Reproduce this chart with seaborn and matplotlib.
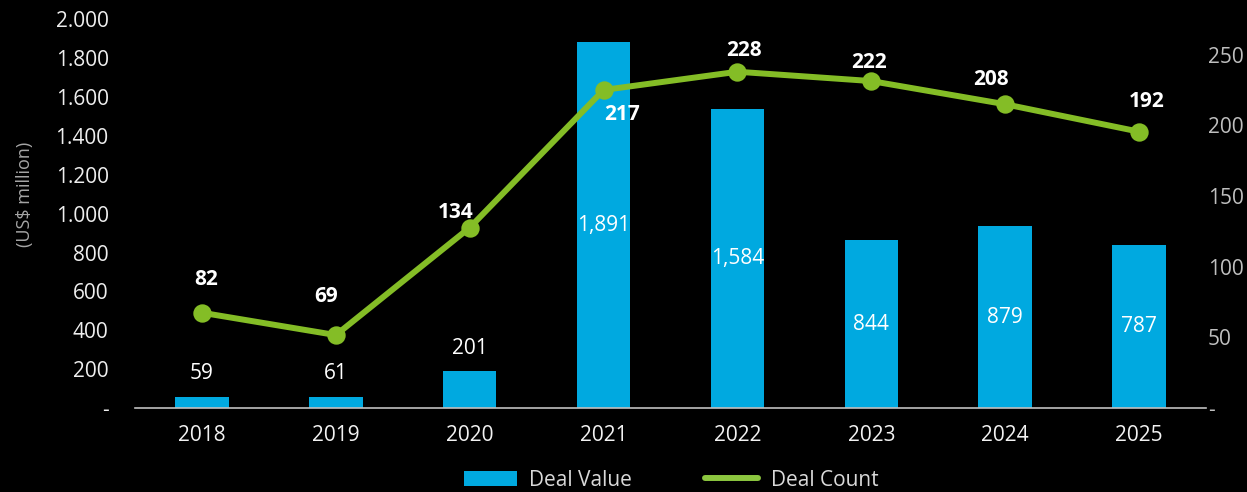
import numpy as np
import pandas as pd
import seaborn as sns
import matplotlib.pyplot as plt
from matplotlib.patches import Patch
from matplotlib.lines import Line2D
from matplotlib.ticker import FuncFormatter, FixedLocator

years = ['2018', '2019', '2020', '2021', '2022', '2023', '2024', '2025']
# bar heights / line points as drawn in the source, printed labels kept separately
deal_value = [57, 57, 190, 1882, 1537, 864, 936, 838]
deal_value_labels = ['59', '61', '201', '1,891', '1,584', '844', '879', '787']
deal_count = [67.4, 51.6, 127.6, 225, 237.9, 231.3, 214.9, 195.5]
deal_count_labels = ['82', '69', '134', '217', '228', '222', '208', '192']

# label offsets in pixels (dx, dy) from the point
count_offsets = [(4, 33), (-10, 39), (-14, 15), (18, -25), (7, 21), (-2, 19), (-14, 25), (8, 30)]

blue = '#00A9E0'
green = '#84BD26'

#%% style
sns.set_style('dark', {'axes.facecolor': 'black', 'figure.facecolor': 'black'})
plt.rcParams['font.family'] = ['Open Sans', 'DejaVu Sans']

df = pd.DataFrame({'year': years, 'value': deal_value, 'count': deal_count})

W, H = 1247, 492
fig = plt.figure(figsize=(W/100, H/100), dpi=100)
ax = fig.add_axes([135/W, 84/H, (1206-135)/W, (408-19.3)/H])

sns.barplot(data=df, x='year', y='value', color=blue, width=0.4, saturation=1,
            linewidth=0, ax=ax)
ax.set_ylim(0, 2000)

ax2 = ax.twinx()
sns.pointplot(data=df, x='year', y='count', color=green, markers='o', errorbar=None,
              markersize=10, linewidth=4.3, ax=ax2)
ax2.set_ylim(0, 275)
ax.set_xlim(-0.5, 7.5)

#%% axes
ax.set_yticks(range(0, 2001, 200))
ax.yaxis.set_major_formatter(FuncFormatter(lambda v, _: '-' if v == 0 else f'{int(v):,}'.replace(',', '.')))
ax2.set_yticks(range(0, 251, 50))
ax2.yaxis.set_major_formatter(FuncFormatter(lambda v, _: '-' if v == 0 else f'{int(v)}'))

ax.tick_params(axis='y', length=0, pad=19, labelsize=15, labelcolor='#EEEEEE')
ax2.tick_params(axis='y', length=0, pad=1.5, labelsize=15, labelcolor='#BFBFBF')
ax.tick_params(axis='x', which='major', length=0, pad=12, labelsize=15, labelcolor='#F2F2F2')
ax.xaxis.set_minor_locator(FixedLocator(np.arange(-0.5, 8, 1)))
ax.tick_params(axis='x', which='minor', direction='inout', length=11, width=1, color='#A6A6A6')

for a in (ax, ax2):
    for s in a.spines.values():
        s.set_visible(False)
    a.grid(False)
    a.set_xlabel('')
    a.set_ylabel('')
ax.spines['bottom'].set_visible(True)
ax.spines['bottom'].set_color('#BFBFBF')
ax.spines['bottom'].set_linewidth(1.2)

fig.text(25/W, 1-194/H, '(US$ million)', rotation=90, ha='center', va='center',
         color='#A6A6A6', fontsize=13)

#%% data labels
for i, (h, lab) in enumerate(zip(deal_value, deal_value_labels)):
    if h > 500:
        ax.text(i, h/2, lab, ha='center', va='center', color='white', fontsize=15)
    else:
        ax.annotate(lab, (i, h), xytext=(0, 23), textcoords='offset pixels',
                    ha='center', va='center', color='white', fontsize=15)

for i, (c, lab) in enumerate(zip(deal_count, deal_count_labels)):
    ax2.annotate(lab, (i, c), xytext=count_offsets[i], textcoords='offset pixels',
                 ha='center', va='center', color='white', fontsize=15, fontweight='bold')

#%% legend
handles = [Patch(facecolor=blue, edgecolor='none', label='Deal Value'),
           Line2D([0], [0], color='#8CC63F', lw=4.3, solid_capstyle='round', label='Deal Count')]
fig.legend(handles=handles, loc='center', bbox_to_anchor=(671/W, 1-480/H), ncol=2,
           frameon=False, fontsize=15, labelcolor='#D9D9D9', handlelength=2.55,
           handleheight=0.72, handletextpad=0.6, columnspacing=3.5)

fig.savefig('out.png', dpi=100, facecolor='black')
